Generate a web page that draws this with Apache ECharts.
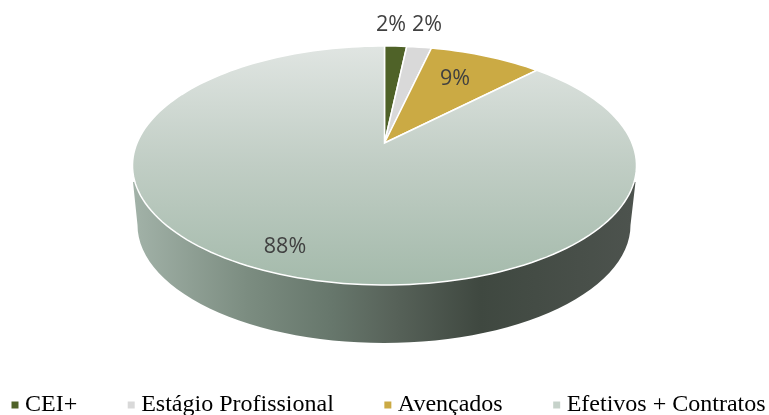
<!DOCTYPE html>
<html>
<head>
<meta charset="utf-8">
<style>
  html, body { margin: 0; padding: 0; background: #fff; }
  #chart { width: 769px; height: 415px; }
</style>
<script src="https://cdn.jsdelivr.net/npm/echarts@6/dist/echarts.min.js"></script>
</head>
<body>
<div id="chart"></div>
<script>
// dados
const categories = ['CEI+', 'Estágio Profissional', 'Avençados', 'Efetivos + Contratos'];
const values = [1.7, 1.9, 8.7, 87.7];
const colors = ['#4f6228', '#d9d9d9', '#cbaa44', '#c6d2ca'];

// posicao dos rotulos (centro do texto, px)
const labelPos = [[391, 25], [427, 25], [455, 79], [285, 247]];

// topo da pizza em perspectiva: elipse + deslocamento do centro
const top3d = { cx: 384.5, cy: 165.5, rx: 252, ry: 119.5, tilt: 0.188 };
const base3d = { cx: 384, cy: 225, rx: 246.5, ry: 118 };

const topFill = {
    type: 'linear', x: 0, y: 46, x2: 0, y2: 285, global: true,
    colorStops: [
        { offset: 0, color: '#e0e5e2' },
        { offset: 0.5, color: '#c0cdc4' },
        { offset: 1, color: '#a4baab' }
    ]
};
const sideFill = {
    type: 'linear', x: 133, y: 0, x2: 636, y2: 0, global: true,
    colorStops: [
        { offset: 0, color: '#a2b2a8' },
        { offset: 0.23, color: '#7b8c80' },
        { offset: 0.4, color: '#66766b' },
        { offset: 0.52, color: '#576259' },
        { offset: 0.69, color: '#3f4840' },
        { offset: 1, color: '#4d534e' }
    ]
};

// percentual -> ponto na borda da elipse
function rimPoint(pct) {
    const a = pct / 100 * Math.PI * 2;
    const u = Math.sin(a), v = Math.cos(a), e = top3d.tilt;
    const d = 1 + e * v;
    return [
        top3d.cx + top3d.rx * u * Math.sqrt(1 - e * e) / d,
        top3d.cy - top3d.ry * (v + e) / d
    ];
}

function rimCenter() {
    return [top3d.cx, top3d.cy - top3d.ry * top3d.tilt];
}

function renderSlice(params, api) {
    const start = api.value(0), end = api.value(1);
    const steps = Math.max(4, Math.ceil((end - start) * 2));
    const pts = [api.coord(rimCenter())];
    for (let i = 0; i <= steps; i++) {
        pts.push(api.coord(rimPoint(start + (end - start) * i / steps)));
    }
    const idx = params.seriesIndex - 1;
    const lp = api.coord(labelPos[idx]);
    return {
        type: 'group',
        children: [
            {
                type: 'polygon',
                shape: { points: pts },
                style: {
                    fill: idx === 3 ? topFill : colors[idx],
                    stroke: '#fff',
                    lineWidth: 1.5
                }
            },
            {
                type: 'text',
                z2: 10,
                style: {
                    x: lp[0], y: lp[1],
                    text: Math.round(end - start) + '%',
                    fill: '#404040',
                    font: '21.5px "Open Sans"',
                    align: 'center',
                    verticalAlign: 'middle'
                }
            }
        ]
    };
}

function renderSide(params, api) {
    const pts = [api.coord([133, 182])];
    for (let i = 0; i <= 60; i++) {
        const a = Math.PI * i / 60;
        pts.push(api.coord([
            base3d.cx - base3d.rx * Math.cos(a),
            base3d.cy + base3d.ry * Math.sin(a)
        ]));
    }
    pts.push(api.coord([635.5, 182]));
    pts.push(api.coord([384, 165]));
    return { type: 'polygon', shape: { points: pts }, style: { fill: sideFill } };
}

const series = [{
    name: 'lateral',
    type: 'custom',
    silent: true,
    renderItem: renderSide,
    data: [[0, 0]]
}];
let acc = 0;
categories.forEach(function (name, i) {
    series.push({
        name: name,
        type: 'custom',
        silent: true,
        itemStyle: { color: colors[i] },
        renderItem: renderSlice,
        data: [[acc, acc + values[i]]]
    });
    acc += values[i];
});

const chart = echarts.init(document.getElementById('chart'), null, { renderer: 'canvas' });
chart.setOption({
    animation: false,
    backgroundColor: '#fff',
    grid: { left: 0, right: 0, top: 0, bottom: 0 },
    xAxis: { type: 'value', min: 0, max: 769, show: false },
    yAxis: { type: 'value', min: 0, max: 415, inverse: true, show: false },
    legend: {
        left: 11.5,
        top: 393,
        padding: 0,
        itemGap: 50.5,
        itemWidth: 10,
        itemHeight: 7,
        selectedMode: false,
        textStyle: { fontFamily: '"Liberation Serif"', fontSize: 24, color: '#000' },
        data: categories.map(function (name, i) {
            return {
                name: name,
                icon: 'path://M0,0h7v7h-7z',
                itemStyle: { color: colors[i] }
            };
        })
    },
    series: series
});

window.addEventListener('resize', function () {
    chart.resize();
});
</script>
</body>
</html>
